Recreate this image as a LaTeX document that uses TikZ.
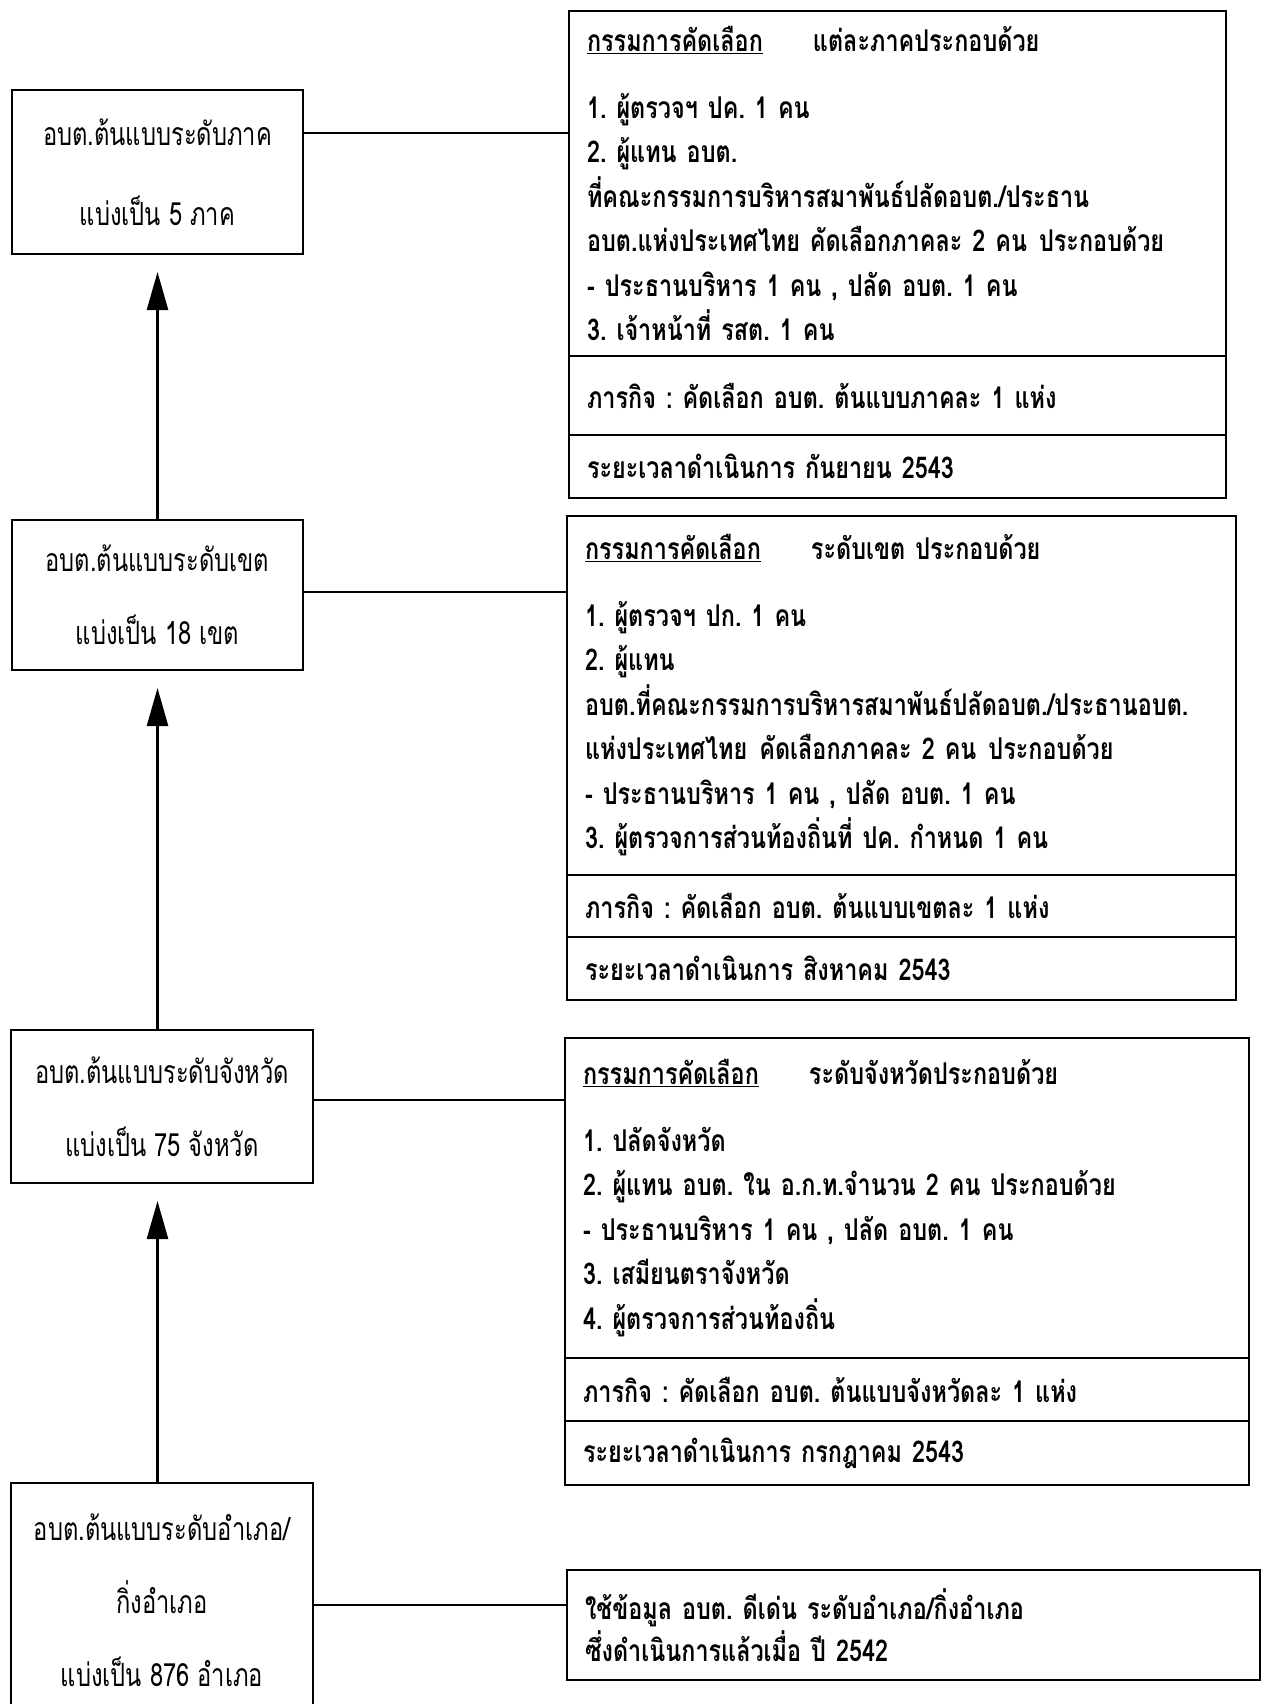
\documentclass[tikz,border=0pt]{standalone}
\usepackage{fontspec}
\usepackage{tikz}
\usetikzlibrary{arrows.meta, positioning, calc}
\setmainfont{Loma}[Script=Thai]
\newfontfamily\levelfont[Script=Thai,FakeStretch=0.74]{Loma}
\newfontfamily\panelfont[Script=Thai,FakeStretch=0.78]{Loma}
\frenchspacing

\begin{document}
\begin{tikzpicture}[x=1pt, y=-1pt,
  levelbox/.style={draw, line width=2pt, outer sep=0pt, inner sep=0pt, align=center,
    font=\levelfont\fontsize{32}{73}\selectfont},
  panel/.style={draw, line width=2pt, outer sep=0pt, inner xsep=18pt, inner ysep=0pt,
    align=left, anchor=north west, font=\panelfont\bfseries\fontsize{30}{44.5}\selectfont},
  link/.style={line width=2pt},
  rise/.style={line width=2.4pt, -{Triangle[length=38pt,width=21pt]}}]
  \useasboundingbox (0,0) rectangle (1269,1704);

  % Level boxes (left column)
  \node[levelbox, minimum width=291pt, minimum height=164pt] (lvA) at (157.5,172)
    {อบต.ต้นแบบระดับภาค\\[7pt]แบ่งเป็น 5 ภาค};
  \node[levelbox, minimum width=291pt, minimum height=150pt] (lvB) at (157.5,595)
    {อบต.ต้นแบบระดับเขต\\แบ่งเป็น 18 เขต};
  \node[levelbox, minimum width=302pt, minimum height=153pt] (lvC) at (162,1106.5)
    {อบต.ต้นแบบระดับจังหวัด\\แบ่งเป็น 75 จังหวัด};
  \node[levelbox, minimum width=302pt, minimum height=234pt] (lvD) at (162,1600)
    {อบต.ต้นแบบระดับอำเภอ/\\กิ่งอำเภอ\\แบ่งเป็น 876 อำเภอ};

  % Selection committee, region level
  \node[panel, text width=621pt, minimum height=345pt] (mA) at (569,11)
    {\underline{กรรมการคัดเลือก}\hspace{50pt}แต่ละภาคประกอบด้วย\\[22pt]
     1. ผู้ตรวจฯ ปค. 1 คน\\
     2. ผู้แทน อบต.\\
     ที่คณะกรรมการบริหารสมาพันธ์ปลัดอบต./ประธาน\\
     อบต.แห่งประเทศไทย คัดเลือกภาคละ 2 คน\hspace{12pt}ประกอบด้วย\\
     - ประธานบริหาร 1 คน , ปลัด อบต. 1 คน\\
     3. เจ้าหน้าที่ รสต. 1 คน};
  \node[panel, text width=621pt, minimum height=79pt, below=0pt of mA] (tA)
    {ภารกิจ : คัดเลือก อบต. ต้นแบบภาคละ 1 แห่ง};
  \node[panel, text width=621pt, minimum height=63pt, below=0pt of tA] (dA)
    {ระยะเวลาดำเนินการ กันยายน 2543};

  % Selection committee, zone level
  \node[panel, text width=633pt, minimum height=359pt] (mB) at (567,516)
    {\underline{กรรมการคัดเลือก}\hspace{50pt}ระดับเขต ประกอบด้วย\\[22pt]
     1. ผู้ตรวจฯ ปก. 1 คน\\
     2. ผู้แทน\\
     อบต.ที่คณะกรรมการบริหารสมาพันธ์ปลัดอบต./ประธานอบต.\\
     แห่งประเทศไทย\hspace{12pt}คัดเลือกภาคละ 2 คน\hspace{12pt}ประกอบด้วย\\
     - ประธานบริหาร 1 คน , ปลัด อบต. 1 คน\\
     3. ผู้ตรวจการส่วนท้องถิ่นที่ ปค. กำหนด 1 คน};
  \node[panel, text width=633pt, minimum height=62pt, below=0pt of mB] (tB)
    {ภารกิจ : คัดเลือก อบต. ต้นแบบเขตละ 1 แห่ง};
  \node[panel, text width=633pt, minimum height=63pt, below=0pt of tB] (dB)
    {ระยะเวลาดำเนินการ\hspace{10pt}สิงหาคม 2543};

  % Selection committee, province level
  \node[panel, text width=648pt, minimum height=320pt] (mC) at (565,1038)
    {\underline{กรรมการคัดเลือก}\hspace{50pt}ระดับจังหวัดประกอบด้วย\\[22pt]
     1. ปลัดจังหวัด\\
     2. ผู้แทน อบต. ใน อ.ก.ท.จำนวน 2 คน ประกอบด้วย\\
     - ประธานบริหาร 1 คน , ปลัด อบต. 1 คน\\
     3. เสมียนตราจังหวัด\\
     4. ผู้ตรวจการส่วนท้องถิ่น};
  \node[panel, text width=648pt, minimum height=63pt, below=0pt of mC] (tC)
    {ภารกิจ : คัดเลือก อบต. ต้นแบบจังหวัดละ 1 แห่ง};
  \node[panel, text width=648pt, minimum height=64pt, below=0pt of tC] (dC)
    {ระยะเวลาดำเนินการ\hspace{10pt}กรกฎาคม 2543};

  % District level uses earlier data
  \node[panel, text width=657pt, minimum height=110pt,
    font=\panelfont\bfseries\fontsize{30}{42}\selectfont] (mD) at (567,1570)
    {ใช้ข้อมูล อบต. ดีเด่น ระดับอำเภอ/กิ่งอำเภอ\\
     ซึ่งดำเนินการแล้วเมื่อ ปี 2542};

  % Links from levels to panels
  \coordinate (jA) at (0,133);
  \coordinate (jB) at (0,592);
  \coordinate (jC) at (0,1100);
  \coordinate (jD) at (0,1605);
  \draw[link] (lvA.east |- jA) -- (mA.west |- jA);
  \draw[link] (lvB.east |- jB) -- (mB.west |- jB);
  \draw[link] (lvC.east |- jC) -- (mC.west |- jC);
  \draw[link] (lvD.east |- jD) -- (mD.west |- jD);

  % Arrows up the hierarchy
  \draw[rise] (lvB.north) -- ($(lvA.south)+(0,18)$);
  \draw[rise] (lvC.north -| lvA.south) -- ($(lvB.south)+(0,18)$);
  \draw[rise] (lvD.north -| lvA.south) -- ($(lvC.south -| lvA.south)+(0,18)$);
\end{tikzpicture}
\end{document}
